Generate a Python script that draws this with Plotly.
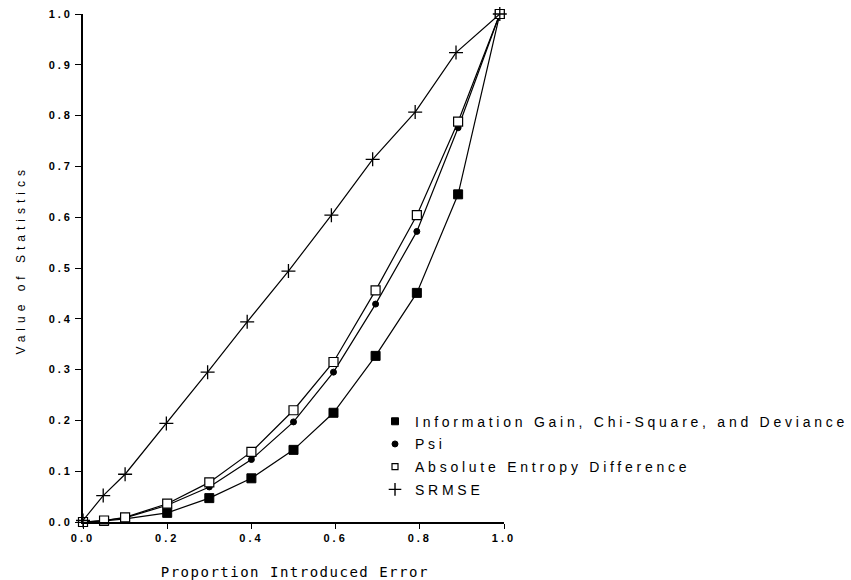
import plotly.graph_objects as go

# Data
x_common = [0.0, 0.05, 0.1, 0.2, 0.3, 0.4, 0.5, 0.595, 0.695, 0.793, 0.891, 0.99]
info_gain = [0.0, 0.002, 0.006, 0.018, 0.047, 0.086, 0.142, 0.215, 0.327, 0.451, 0.645, 1.0]
psi = [0.0, 0.003, 0.008, 0.033, 0.069, 0.123, 0.197, 0.295, 0.429, 0.572, 0.776, 1.0]
abs_entropy = [0.0, 0.003, 0.009, 0.036, 0.078, 0.138, 0.220, 0.315, 0.456, 0.604, 0.788, 1.0]
x_srmse = [0.0, 0.048, 0.1, 0.198, 0.296, 0.39, 0.488, 0.59, 0.688, 0.789, 0.886, 0.99]
srmse = [0.003, 0.052, 0.094, 0.194, 0.295, 0.394, 0.494, 0.604, 0.714, 0.807, 0.924, 1.0]

series_names = ["Information Gain, Chi-Square, and Deviance", "Psi",
                "Absolute Entropy Difference", "SRMSE"]

x_ticks = [0.0, 0.2, 0.4, 0.6, 0.8, 1.0]
y_ticks = [0.0, 0.1, 0.2, 0.3, 0.4, 0.5, 0.6, 0.7, 0.8, 0.9, 1.0]

x_title = "Proportion Introduced Error"
y_title = "Value of Statistics"

fig = go.Figure()

plot_styles = [
    dict(symbol="square", size=9, color="black", line=dict(color="black", width=1)),
    dict(symbol="circle", size=6, color="black", line=dict(color="black", width=1)),
    dict(symbol="square", size=9, color="white", line=dict(color="black", width=1.2)),
    dict(symbol="cross-thin", size=10, color="black", line=dict(color="black", width=1.3)),
]
legend_styles = [
    dict(symbol="square", size=7, color="black", line=dict(color="black", width=1)),
    dict(symbol="circle", size=6, color="black", line=dict(color="black", width=1)),
    dict(symbol="square", size=6, color="white", line=dict(color="black", width=1.2)),
    dict(symbol="cross-thin", size=9, color="black", line=dict(color="black", width=1.4)),
]
xs = [x_common, x_common, x_common, x_srmse]
ys = [info_gain, psi, abs_entropy, srmse]

for name, xv, yv, st in zip(series_names, xs, ys, plot_styles):
    fig.add_trace(go.Scatter(
        x=xv, y=yv, mode="lines+markers", name=name, showlegend=False,
        line=dict(color="black", width=1.2), marker=st, cliponaxis=False))

# legend entries (markers only)
for i, (name, st) in enumerate(zip(series_names, legend_styles)):
    fig.add_trace(go.Scatter(x=[None], y=[None], mode="markers", name=name,
                             legendgroup="g%d" % i, marker=st, showlegend=True))

tickfont = dict(family="Arial", size=11, color="black", weight="bold")

fig.update_layout(
    width=851, height=580,
    margin=dict(l=83, r=347, t=14, b=58, autoexpand=False),
    plot_bgcolor="white", paper_bgcolor="white",
    showlegend=True,
    legend=dict(x=0.6936, y=0.229, xanchor="left", yanchor="top",
                font=dict(family="Arial", size=14, color="black"),
                bgcolor="rgba(0,0,0,0)", tracegroupgap=1.5),
    xaxis=dict(range=[0, 1], tickvals=x_ticks, tickformat=".1f",
               showgrid=False, zeroline=False, showline=True,
               linecolor="black", linewidth=1.7, ticks="outside",
               ticklen=5, tickcolor="black", tickwidth=1.2,
               tickfont=tickfont),
    yaxis=dict(range=[0, 1], tickvals=y_ticks, tickformat=".1f",
               showgrid=False, zeroline=False, showline=True,
               linecolor="black", linewidth=1.7, ticks="outside",
               ticklen=6, tickcolor="black", tickwidth=1.2,
               tickfont=tickfont),
    annotations=[
        dict(text=x_title, xref="paper", yref="paper", x=0.503, y=-0.0978,
             xanchor="center", yanchor="middle", showarrow=False,
             font=dict(family="DejaVu Sans Mono", size=14, color="black")),
        dict(text=y_title, xref="paper", yref="paper", x=-0.147, y=0.516,
             xanchor="center", yanchor="middle", showarrow=False, textangle=-90,
             font=dict(family="Arial", size=12, color="black")),
    ],
)

post = """
document.documentElement.style.margin = '0';
document.body.style.margin = '0';
document.body.style.padding = '0';
function spaceText(){
  document.querySelectorAll('.xtick text, .ytick text').forEach(function(e){e.style.letterSpacing='3px';});
  document.querySelectorAll('.legendtext').forEach(function(e){e.style.letterSpacing='3.75px';});
  var ann = document.querySelectorAll('.annotation-text');
  if (ann.length > 0) ann[0].style.letterSpacing = '1.5px';
  if (ann.length > 1) ann[1].style.letterSpacing = '5px';
  document.querySelectorAll('.legend .scrollbox, .legend').forEach(function(e){e.removeAttribute('clip-path');});
}
spaceText();
setTimeout(spaceText, 50);
"""

fig.write_html("out.html", post_script=post, config={"displayModeBar": False})
